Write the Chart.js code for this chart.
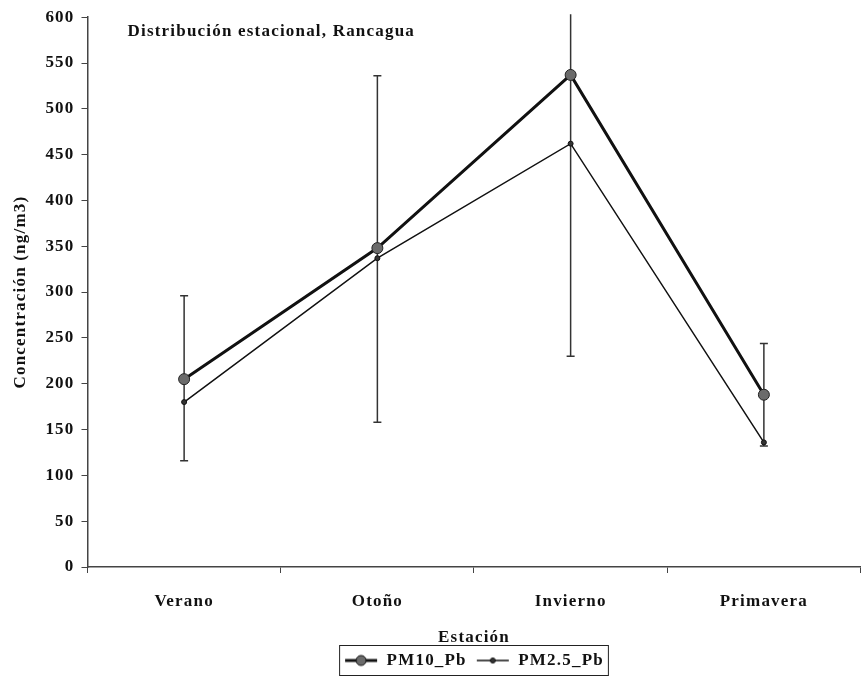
<!DOCTYPE html>
<html lang="es">
<head>
    <meta charset="UTF-8">
    <title>Distribución estacional, Rancagua</title>
    <script src="https://cdn.jsdelivr.net/npm/chart.js"></script>
    <style>
        html, body {
            margin: 0;
            padding: 0;
            background: #fff;
        }
        .chart-wrapper {
            width: 867px;
            height: 686px;
        }
    </style>
</head>
<body>
    <div class="chart-wrapper">
        <canvas id="seasonChart"></canvas>
    </div>

    <script>
        // Datos
        const seasons = ['Verano', 'Otoño', 'Invierno', 'Primavera'];
        const pm10 = [205, 348, 537, 188];
        const pm25 = [180, 337, 462, 136];
        // barras de error (sobre PM10)
        const errLow = [116, 158, 230, 132];
        const errHigh = [296, 536, 844, 244];
        const yTicks = [0, 50, 100, 150, 200, 250, 300, 350, 400, 450, 500, 550, 600];

        const serif = '"Liberation Serif", "Times New Roman", serif';
        const axisColor = '#444';
        const spacing = '1.2px';

        // little line+marker swatches for the legend
        function makeSwatch(lineWidth, radius, fill) {
            const c = document.createElement('canvas');
            c.width = 34;
            c.height = 14;
            const g = c.getContext('2d');
            g.strokeStyle = '#111';
            g.lineWidth = lineWidth;
            g.beginPath();
            g.moveTo(1, 7);
            g.lineTo(33, 7);
            g.stroke();
            g.beginPath();
            g.arc(17, 7, radius, 0, Math.PI * 2);
            g.fillStyle = fill;
            g.fill();
            g.lineWidth = 1;
            g.stroke();
            return c;
        }
        const swatches = [makeSwatch(3, 5, '#6b6b6b'), makeSwatch(1.5, 2.5, '#333')];

        // wider letters like the scanned original
        const letterSpace = {
            id: 'letterSpace',
            beforeUpdate(chart) { chart.ctx.letterSpacing = spacing; },
            beforeLayout(chart) { chart.ctx.letterSpacing = spacing; },
            beforeDraw(chart) { chart.ctx.letterSpacing = spacing; }
        };

        const errorBars = {
            id: 'errorBars',
            beforeDatasetsDraw(chart) {
                const { ctx, chartArea, scales } = chart;
                ctx.save();
                ctx.strokeStyle = '#333';
                ctx.lineWidth = 1.5;
                errLow.forEach((lo, i) => {
                    const x = scales.x.getPixelForValue(i);
                    const yLo = scales.y.getPixelForValue(lo);
                    let yHi = scales.y.getPixelForValue(errHigh[i]);
                    const clipped = yHi < chartArea.top - 3;
                    if (clipped) yHi = chartArea.top - 3;
                    ctx.beginPath();
                    ctx.moveTo(x, yLo);
                    ctx.lineTo(x, yHi);
                    ctx.moveTo(x - 4, yLo);
                    ctx.lineTo(x + 4, yLo);
                    if (!clipped) {
                        ctx.moveTo(x - 4, yHi);
                        ctx.lineTo(x + 4, yHi);
                    }
                    ctx.stroke();
                });
                ctx.restore();
            }
        };

        const innerTitle = {
            id: 'innerTitle',
            afterDraw(chart) {
                const { ctx, chartArea } = chart;
                ctx.save();
                ctx.font = 'bold 17px ' + serif;
                ctx.fillStyle = '#111';
                ctx.textBaseline = 'middle';
                ctx.fillText('Distribución estacional, Rancagua', chartArea.left + 40, chartArea.top + 14);
                ctx.restore();
            }
        };

        const legendBox = {
            id: 'legendBox',
            afterDraw(chart) {
                const boxes = chart.legend.legendHitBoxes;
                if (!boxes || !boxes.length) return;
                const first = boxes[0];
                const last = boxes[boxes.length - 1];
                const { ctx } = chart;
                ctx.save();
                ctx.strokeStyle = '#222';
                ctx.lineWidth = 1;
                ctx.strokeRect(first.left - 4.5, first.top - 6.5, last.left + last.width - first.left + 9, first.height + 13);
                ctx.restore();
            }
        };

        const ctx = document.getElementById('seasonChart').getContext('2d');
        new Chart(ctx, {
            type: 'line',
            data: {
                labels: seasons,
                datasets: [{
                    label: 'PM10_Pb',
                    data: pm10,
                    borderColor: '#111',
                    borderWidth: 3,
                    pointRadius: 5.5,
                    pointBackgroundColor: '#6b6b6b',
                    pointBorderColor: '#222',
                    pointBorderWidth: 1,
                    tension: 0
                }, {
                    label: 'PM2.5_Pb',
                    data: pm25,
                    borderColor: '#111',
                    borderWidth: 1.5,
                    pointRadius: 2.5,
                    pointBackgroundColor: '#333',
                    pointBorderColor: '#111',
                    pointBorderWidth: 1,
                    tension: 0
                }]
            },
            options: {
                responsive: true,
                maintainAspectRatio: false,
                animation: false,
                layout: {
                    padding: { top: 10, right: 2, left: 10, bottom: 7 }
                },
                plugins: {
                    legend: {
                        position: 'bottom',
                        fullSize: false,
                        title: {
                            display: true,
                            text: 'Estación',
                            color: '#111',
                            padding: 0,
                            font: { family: serif, size: 17, weight: 'bold', lineHeight: 0.8 }
                        },
                        labels: {
                            usePointStyle: true,
                            pointStyleWidth: 34,
                            boxHeight: 14,
                            padding: 9,
                            color: '#111',
                            font: { family: serif, size: 17, weight: 'bold' },
                            generateLabels(chart) {
                                return Chart.defaults.plugins.legend.labels.generateLabels(chart)
                                    .map((item, i) => ({ ...item, pointStyle: swatches[i] }));
                            }
                        }
                    },
                    tooltip: { enabled: false }
                },
                scales: {
                    x: {
                        offset: true,
                        grid: {
                            offset: true,
                            drawOnChartArea: false,
                            drawTicks: true,
                            tickLength: 6,
                            color: axisColor
                        },
                        border: { color: axisColor, width: 1.5 },
                        ticks: {
                            color: '#111',
                            padding: 18,
                            font: { family: serif, size: 17, weight: 'bold' }
                        }
                    },
                    y: {
                        min: 0,
                        max: 600,
                        afterBuildTicks(scale) {
                            scale.ticks = yTicks.map(v => ({ value: v }));
                        },
                        grid: {
                            drawOnChartArea: false,
                            drawTicks: true,
                            tickLength: 6,
                            color: axisColor
                        },
                        border: { color: axisColor, width: 1.5 },
                        ticks: {
                            color: '#111',
                            padding: 7,
                            font: { family: serif, size: 17, weight: 'bold' }
                        },
                        title: {
                            display: true,
                            text: 'Concentración (ng/m3)',
                            color: '#111',
                            padding: { top: 0, bottom: 8 },
                            font: { family: serif, size: 17, weight: 'bold' }
                        }
                    }
                }
            },
            plugins: [letterSpace, errorBars, innerTitle, legendBox]
        });
    </script>
</body>
</html>
